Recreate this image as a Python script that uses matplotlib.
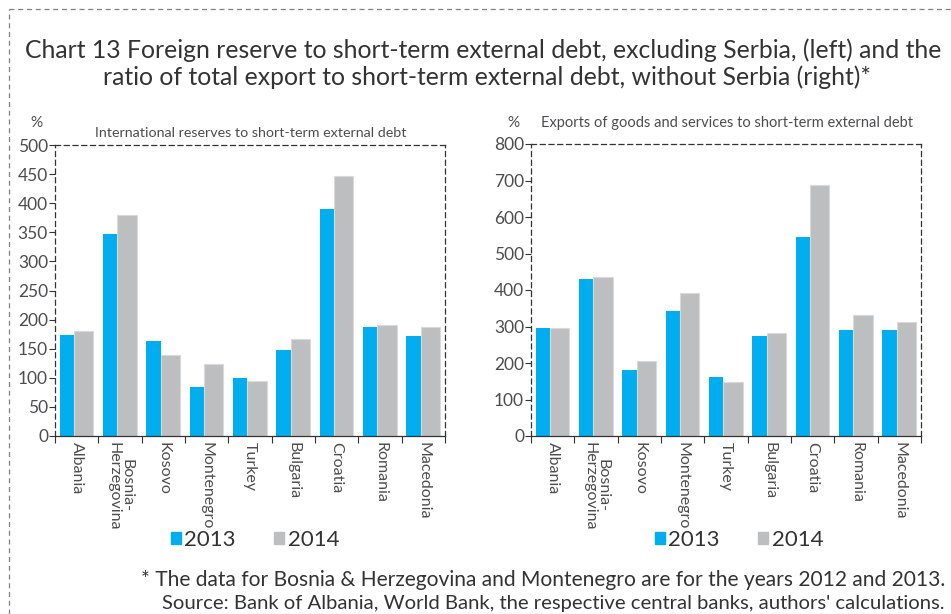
import matplotlib.pyplot as plt
from matplotlib.lines import Line2D
from matplotlib.patches import Patch
import numpy as np

# DATA
countries = ["Albania", "Bosnia-\nHerzegovina", "Kosovo", "Montenegro", "Turkey",
             "Bulgaria", "Croatia", "Romania", "Macedonia"]
reserves_2013 = [174, 347, 163, 84, 100, 147, 390, 188, 171]
reserves_2014 = [180, 380, 140, 124, 95, 166, 446, 191, 188]
exports_2013 = [295, 430, 180, 343, 161, 275, 546, 290, 290]
exports_2014 = [297, 436, 205, 393, 149, 283, 687, 331, 312]

BLUE = "#00AEEF"
GREY = "#BCBEC0"
TEXT = "#4D4D4F"
DARK = "#333333"

plt.rcParams['font.family'] = "Lato"
plt.rcParams['font.weight'] = 'normal'

W, H = 951, 614
fig = plt.figure(figsize=(W / 100, H / 100), dpi=100)


def px_axes(x0, y_top, w, h):
    return fig.add_axes([x0 / W, (H - y_top - h) / H, w / W, h / H])


def bar_panel(ax, v13, v14, ymax, step):
    x = np.arange(len(countries))
    ax.bar(x - 0.225, v13, width=0.33, color=BLUE, linewidth=0, zorder=2)
    ax.bar(x + 0.1625, v14, width=0.445, color=GREY, edgecolor="#D8D9DA",
           linewidth=0.8, zorder=2)
    ax.set_xlim(-0.5, len(countries) - 0.5)
    ax.set_ylim(0, ymax)
    ax.set_yticks(np.arange(0, ymax + 1, step))
    ax.tick_params(axis='y', direction='out', length=4, width=0.8, pad=1,
                   labelsize=12.5, labelcolor=TEXT, color=DARK)
    # boundary ticks on the category axis, labels at the centres
    ax.set_xticks(np.arange(-0.5, len(countries), 1.0))
    ax.set_xticklabels([])
    ax.set_xticks(x, minor=True)
    ax.set_xticklabels(countries, minor=True, rotation=270, va='top',
                       ha='center', fontsize=11.5, color=TEXT,
                       linespacing=0.9)
    ax.tick_params(axis='x', which='major', direction='out', length=5,
                   width=0.8, color=DARK)
    ax.tick_params(axis='x', which='minor', length=0, pad=4)
    for side in ("top", "right", "left"):
        ax.spines[side].set_linestyle((0, (4, 3)))
        ax.spines[side].set_linewidth(0.9)
        ax.spines[side].set_color(DARK)
    ax.spines["bottom"].set_linewidth(0.9)
    ax.spines["bottom"].set_color(DARK)
    ax.set_facecolor("none")


ax1 = px_axes(55, 145, 390, 291)
bar_panel(ax1, reserves_2013, reserves_2014, 500, 50)
fig.text(30 / W, 1 - 123 / H, "%", fontsize=11, color=TEXT, ha='left', va='center')
fig.text(95 / W, 1 - 133 / H, "International reserves to short-term external debt",
         fontsize=10.3, color=TEXT, ha='left', va='center')

ax2 = px_axes(531, 144, 390, 292)
bar_panel(ax2, exports_2013, exports_2014, 800, 100)
fig.text(507 / W, 1 - 123 / H, "%", fontsize=11, color=TEXT, ha='left', va='center')
fig.text(541 / W, 1 - 123 / H,
         "Exports of goods and services to short-term external debt",
         fontsize=10.5, color=TEXT, ha='left', va='center')

# legends below each panel
handles = [Patch(color=BLUE, label="2013"), Patch(color=GREY, label="2014")]
for lx in (155, 639):
    fig.legend(handles=handles, loc='center left',
               bbox_to_anchor=(lx / W, 1 - 540 / H), ncol=2, frameon=False,
               fontsize=16, handlelength=0.45, handleheight=0.45,
               handletextpad=0.15, columnspacing=1.75, labelcolor=DARK,
               borderpad=0.2)

fig.text(483 / W, 1 - 50 / H,
         "Chart 13 Foreign reserve to short-term external debt, excluding Serbia, (left) and the",
         fontsize=17.8, color=DARK, ha='center', va='center')
fig.text(487 / W, 1 - 77 / H,
         "ratio of total export to short-term external debt, without Serbia (right)*",
         fontsize=17.8, color=DARK, ha='center', va='center')

fig.text(945 / W, 1 - 580 / H,
         "* The data for Bosnia & Herzegovina and Montenegro are for the years 2012 and 2013.",
         fontsize=15.1, color=DARK, ha='right', va='center')
fig.text(945 / W, 1 - 604 / H,
         "Source: Bank of Albania, World Bank, the respective central banks, authors' calculations.",
         fontsize=14.6, color=DARK, ha='right', va='center')

# dashed frame round the chart
frame_kw = dict(color="#808080", linewidth=0.9, linestyle=(0, (4, 3)),
                transform=fig.transFigure)
fig.add_artist(Line2D([9 / W, 1], [1 - 9 / H, 1 - 9 / H], **frame_kw))
fig.add_artist(Line2D([9 / W, 9 / W], [0, 1 - 9 / H], **frame_kw))

fig.savefig("out.png", dpi=100)
